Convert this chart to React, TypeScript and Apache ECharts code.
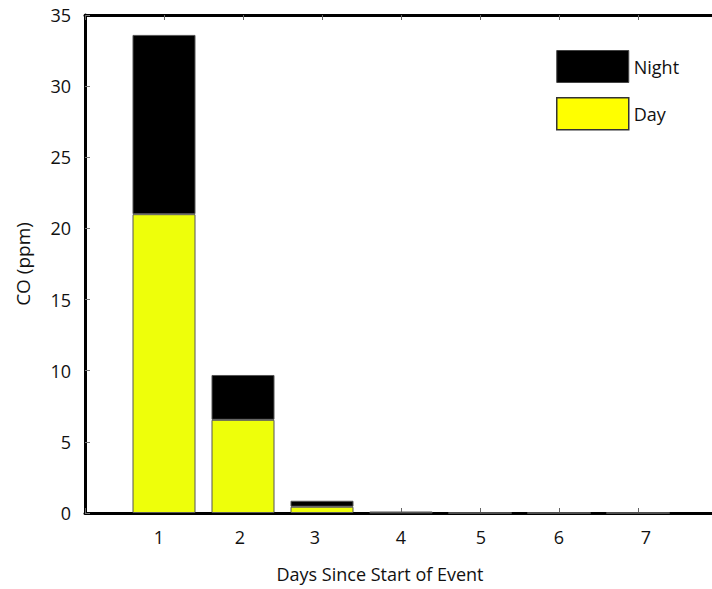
import React, { useEffect, useRef } from "react";
import * as echarts from "echarts";

const xCategories = ["0", "1", "2", "3", "4", "5", "6", "7", "8"];
const days = ["1", "2", "3", "4", "5", "6", "7"];
const dayValues = [21.0, 6.55, 0.44, 0.03, 0, 0, 0];
const nightValues = [12.6, 3.15, 0.42, 0.05, 0, 0, 0];
const yTicks = [0, 5, 10, 15, 20, 25, 30, 35];

const FONT = "Open Sans";

export default function App() {
  const ref = useRef<HTMLDivElement>(null);
  useEffect(() => {
    if (!ref.current) return;
    const chart = echarts.init(ref.current, undefined, { renderer: "svg" });
    const labelShift: Record<string, number> = { "1": -5, "2": -3, "3": -7, "4": 0, "5": 1, "6": 0, "7": 8 };
    const rich: Record<string, any> = {};
    days.forEach((d) => {
      const s = labelShift[d] || 0;
      rich["d" + d] = {
        fontFamily: FONT,
        fontSize: 18,
        color: "#111",
        padding: s < 0 ? [0, -2 * s, 0, 0] : [0, 0, 0, 2 * s],
      };
    });
    const catAxisBase = {
      type: "category",
      data: xCategories,
      boundaryGap: false,
      splitLine: { show: false },
    };
    const option: any = {
      animation: false,
      backgroundColor: "#fff",
      grid: { left: 85, right: 3, top: 15, bottom: 76, containLabel: false },
      legend: {
        orient: "vertical",
        left: 556,
        top: 50,
        padding: 0,
        itemWidth: 72,
        itemHeight: 32,
        itemGap: 14,
        icon: "rect",
        selectedMode: false,
        textStyle: { fontFamily: FONT, fontSize: 18, color: "#111" },
        data: [
          { name: "Night", itemStyle: { color: "#000", borderColor: "#444", borderWidth: 1 } },
          { name: "Day", itemStyle: { color: "#ffff00", borderColor: "#333", borderWidth: 1.5 } },
        ],
      },
      xAxis: [
        {
          ...catAxisBase,
          position: "bottom",
          name: "Days Since Start of Event",
          nameLocation: "middle",
          nameGap: 52,
          nameTextStyle: { fontFamily: FONT, fontSize: 18, color: "#111", padding: [0, 42, 0, 0] },
          axisLine: { show: true, onZero: false, lineStyle: { color: "#000", width: 3 } },
          axisTick: { show: true, inside: true, length: 5, interval: 0, lineStyle: { color: "#666", width: 1 } },
          axisLabel: {
            margin: 15,
            interval: 0,
            formatter: (v: string) => (days.indexOf(v) >= 0 ? `{d${v}|${v}}` : ""),
            rich,
          },
        },
        {
          ...catAxisBase,
          position: "top",
          axisLine: { show: true, onZero: false, lineStyle: { color: "#000", width: 3 } },
          axisTick: { show: true, inside: true, length: 5, interval: 0, lineStyle: { color: "#666", width: 1 } },
          axisLabel: { show: false },
        },
      ],
      yAxis: [
        {
          type: "value",
          position: "left",
          min: 0,
          max: 35,
          interval: 5,
          name: "CO (ppm)",
          nameLocation: "middle",
          nameGap: 53,
          nameRotate: 90,
          nameTextStyle: { fontFamily: FONT, fontSize: 19, color: "#111" },
          axisLine: { show: true, onZero: false, lineStyle: { color: "#000", width: 3 } },
          axisTick: { show: true, inside: true, length: 5, lineStyle: { color: "#777", width: 1 } },
          axisLabel: {
            margin: 14,
            fontFamily: FONT,
            fontSize: 18,
            color: "#111",
            formatter: (v: number) => (yTicks.indexOf(v) >= 0 ? String(v) : ""),
          },
          splitLine: { show: false },
        },
        {
          type: "value",
          position: "right",
          min: 0,
          max: 35,
          interval: 5,
          axisLine: { show: true, onZero: false, lineStyle: { color: "#000", width: 3 } },
          axisTick: { show: true, inside: true, length: 5, lineStyle: { color: "#777", width: 1 } },
          axisLabel: { show: false },
          splitLine: { show: false },
        },
      ],
      series: [
        {
          name: "Day",
          type: "bar",
          stack: "co",
          barWidth: 63,
          xAxisIndex: 0,
          yAxisIndex: 0,
          itemStyle: { color: "#eeff0a", borderColor: "#555", borderWidth: 1 },
          data: days.map((d, i) => [d, dayValues[i]]),
        },
        {
          name: "Night",
          type: "bar",
          stack: "co",
          barWidth: 63,
          xAxisIndex: 0,
          yAxisIndex: 0,
          itemStyle: { color: "#000", borderColor: "#555", borderWidth: 1 },
          data: days.map((d, i) => [d, nightValues[i]]),
        },
      ],
    };
    chart.setOption(option);
    return () => chart.dispose();
  }, []);
  return (
    <div
      ref={ref}
      style={{ position: "fixed", left: 0, top: 0, width: 720, height: 589 }}
    />
  );
}
